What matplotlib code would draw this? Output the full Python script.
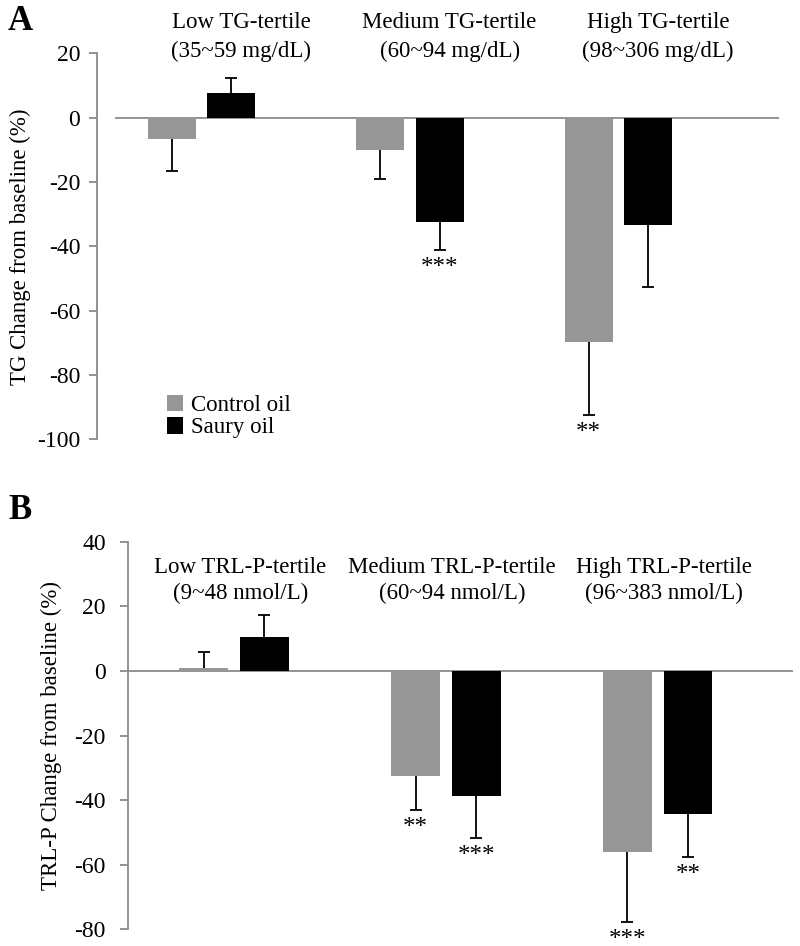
import matplotlib.pyplot as plt
import numpy as np

plt.rcParams['font.family'] = ['Liberation Serif', 'DejaVu Serif']
plt.rcParams['axes.unicode_minus'] = False

groups = np.arange(3)

# Panel A: TG tertiles
tg_titles = ['Low TG-tertile\n(35~59 mg/dL)', 'Medium TG-tertile\n(60~94 mg/dL)',
             'High TG-tertile\n(98~306 mg/dL)']
tg_control = [-6.7, -10.2, -69.8]
tg_control_err = [9.8, 9.0, 22.7]
tg_saury = [7.5, -32.5, -33.3]
tg_saury_err = [4.9, 8.5, 19.5]
tg_control_sig = ['', '', '**']
tg_saury_sig = ['', '***', '']

# Panel B: TRL-P tertiles
trl_titles = ['Low TRL-P-tertile\n(9~48 nmol/L)', 'Medium TRL-P-tertile\n(60~94 nmol/L)',
              'High TRL-P-tertile\n(96~383 nmol/L)']
trl_control = [0.8, -32.6, -56.2]
trl_control_err = [5.1, 10.4, 21.6]
trl_saury = [10.6, -38.8, -44.2]
trl_saury_err = [6.7, 13.0, 13.5]
trl_control_sig = ['', '**', '***']
trl_saury_sig = ['', '***', '**']

GRAY = '#969696'
AXIS = '#8a8a8a'
W = 0.23
OFF = 0.143


def draw_panel(ax, control, control_err, saury, saury_err, c_sig, s_sig):
    bc = ax.bar(groups - OFF, control, W, color=GRAY, label='Control oil', zorder=2)
    bs = ax.bar(groups + OFF, saury, W, color='black', label='Saury oil', zorder=2)
    for xs, vals, errs, sigs in [(groups - OFF, control, control_err, c_sig),
                                 (groups + OFF, saury, saury_err, s_sig)]:
        for x, v, e, s in zip(xs, vals, errs, sigs):
            # one-sided error bar pointing away from zero
            end = v - e if v < 0 else v + e
            ax.vlines(x, v, end, color='black', lw=1.3, zorder=3)
            ax.plot(x, end, marker='_', ms=9, mew=1.3, color='black', zorder=3)
            if s:
                ax.text(x, end - 2.2, s, ha='center', va='top', fontsize=18)
    ax.axhline(0, color=AXIS, lw=1.3, zorder=1)
    for side in ['top', 'right', 'bottom']:
        ax.spines[side].set_visible(False)
    ax.spines['left'].set_color(AXIS)
    ax.spines['left'].set_linewidth(1.3)
    ax.set_xticks([])
    ax.tick_params(axis='y', direction='out', length=6, width=1.3, color=AXIS,
                   labelsize=17, pad=6)
    return bc, bs


fig = plt.figure(figsize=(8, 9.46), dpi=100)

# ---- Panel A ----
axA = fig.add_axes([0.14375, 0.5356, 0.83, 0.4081])
bc, bs = draw_panel(axA, tg_control, tg_control_err, tg_saury, tg_saury_err,
                    tg_control_sig, tg_saury_sig)
axA.set_xlim(-0.415, 2.77)
axA.set_ylim(-100, 20)
axA.set_yticks(np.arange(-100, 21, 20))
axA.spines['left'].set_position(('outward', 13))
for x, t in zip(groups, tg_titles):
    axA.text(x + 0.19, 1.042, t, transform=axA.get_xaxis_transform(), ha='center',
             va='center', fontsize=16.5, linespacing=1.5)
axA.text(-0.143, 0.5, 'TG Change from baseline (%)', transform=axA.transAxes,
         rotation=90, ha='center', va='center', fontsize=16.5)
axA.legend(handles=[bc, bs], loc='upper left', bbox_to_anchor=(0.078, 0.115),
           frameon=False, fontsize=16.5, borderpad=0, handlelength=0.72,
           handleheight=0.72, handletextpad=0.35, labelspacing=0.05, borderaxespad=0)
fig.text(0.01, 0.995, 'A', fontsize=25, fontweight='bold', va='top', ha='left')

# ---- Panel B ----
axB = fig.add_axes([0.16, 0.01765, 0.83125, 0.4097])
draw_panel(axB, trl_control, trl_control_err, trl_saury, trl_saury_err,
           trl_control_sig, trl_saury_sig)
axB.set_xlim(-0.5, 2.638)
axB.set_ylim(-80, 40)
axB.set_yticks(np.arange(-80, 41, 20))
axB.tick_params(axis='y', pad=10)
for x, t in zip(groups, trl_titles):
    axB.text(x + 0.03, 0.9, t, transform=axB.get_xaxis_transform(), ha='center',
             va='center', fontsize=16.5, linespacing=1.35)
axB.text(-0.115, 0.5, 'TRL-P Change from baseline (%)', transform=axB.transAxes,
         rotation=90, ha='center', va='center', fontsize=16.5)
fig.text(0.01, 0.478, 'B', fontsize=25, fontweight='bold', va='top', ha='left')

fig.savefig('out.png', dpi=100)
